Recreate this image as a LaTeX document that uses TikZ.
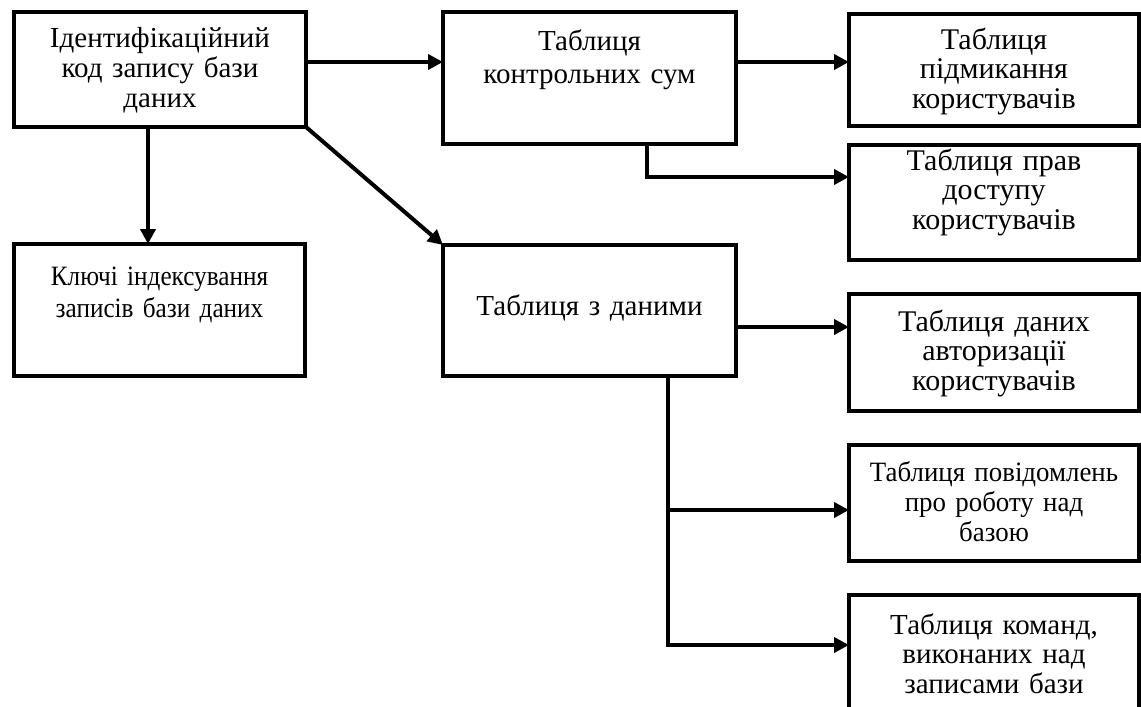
\documentclass[tikz,border=0pt]{standalone}
\usepackage{fontspec}
\setmainfont{Liberation Serif}
\newfontfamily\condfont{Liberation Serif}[FakeStretch=0.9]
\newfontfamily\semicondfont{Liberation Serif}[FakeStretch=0.96]
\usetikzlibrary{arrows.meta,calc}
\AtBeginDocument{\lineskiplimit=-20pt}
\begin{document}
\begin{tikzpicture}[x=1pt,y=-1pt,
  box/.style={draw, line width=4pt, inner sep=0pt, outer sep=0pt, anchor=north west},
  txt/.style={anchor=base, align=center, inner sep=0pt, text width=286pt},
  fa/.style={font=\fontsize{29}{30}\selectfont},
  fb/.style={font=\fontsize{30}{29.5}\selectfont},
  arr/.style={line width=4pt, -{Triangle[length=15pt,width=15pt]}},
]
\useasboundingbox (0,0) rectangle (1141,707);
\clip (0,0) rectangle (1141,707);
% boxes
\node[box, minimum width=292pt, minimum height=115pt] (A) at (14,12) {};
\node[box, minimum width=293pt, minimum height=132pt] (B) at (443,12) {};
\node[box, minimum width=290pt, minimum height=112pt] (C) at (849,14) {};
\node[box, minimum width=290pt, minimum height=115pt] (D) at (849,145) {};
\node[box, minimum width=291pt, minimum height=132pt] (E) at (14,244) {};
\node[box, minimum width=293pt, minimum height=131pt] (F) at (443,245) {};
\node[box, minimum width=290pt, minimum height=117pt] (G) at (849,294) {};
\node[box, minimum width=290pt, minimum height=116pt] (H) at (849,445) {};
\node[box, minimum width=290pt, minimum height=170pt] (I) at (849,595) {};
% texts
\node[txt, fa] (At) at (160,47) {Ідентифікаційний\\код запису бази\\даних};
\node[txt, font=\fontsize{29}{32.5}\selectfont] (Bt) at (589.5,50.5) {Таблиця\\контрольних сум};
\node[txt, fb] (Ct) at (994,49) {Таблиця\\підмикання\\користувачів};
\node[txt, fb] (Dt) at (994,170) {Таблиця прав\\доступу\\користувачів};
\node[txt, font=\fontsize{28}{32}\condfont] (Et) at (159.5,285) {Ключі індексування\\записів бази даних};
\node[txt, fa] (Ft) at (589.5,315) {Таблиця з даними};
\node[txt, fb] (Gt) at (994,331) {Таблиця даних\\авторизації\\користувачів};
\node[txt, font=\fontsize{28}{30}\semicondfont] (Ht) at (994,481) {Таблиця повідомлень\\про роботу над\\базою};
\node[txt, font=\fontsize{29}{29.5}\selectfont] (It) at (994,634) {Таблиця команд,\\виконаних над\\записами бази};
% connectors
\coordinate (a1) at ([yshift=-50pt]A.north east);
\draw[arr] (a1) -- (a1 -| B.west);
\coordinate (b1) at ([yshift=-50pt]B.north east);
\draw[arr] (b1) -- (b1 -| C.west);
\coordinate (b2) at ([xshift=204pt]B.south west);
\coordinate (d1) at ([yshift=-32pt]D.north west);
\draw[arr] (b2) |- (d1);
\coordinate (a2) at ([xshift=134pt]A.south west);
\draw[arr] (a2) -- (a2 |- E.north);
\draw[arr] (A.south east) -- (F.north west);
\coordinate (f1) at ([yshift=-82pt]F.north east);
\draw[arr] (f1) -- (f1 -| G.west);
\coordinate (f2) at ([xshift=225pt]F.south west);
\coordinate (h1) at ([yshift=-65pt]H.north west);
\coordinate (i1) at ([yshift=-50pt]I.north west);
\draw[arr] (f2) |- (i1);
\draw[arr] (f2 |- h1) -- (h1);
\end{tikzpicture}
\end{document}
